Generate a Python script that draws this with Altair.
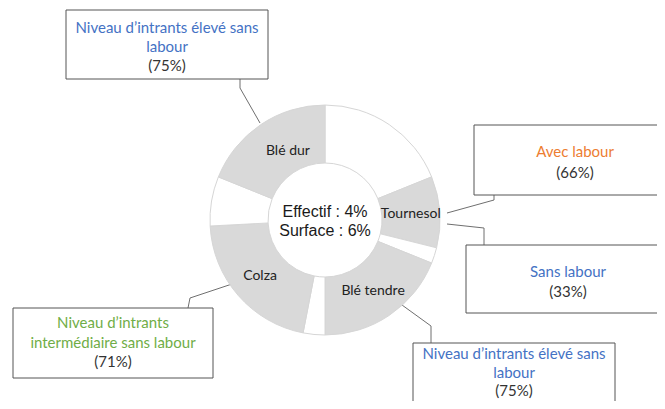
import altair as alt
import pandas as pd
import math

# ---- data: donut segments (clockwise from 12 o'clock), in degrees of the ring
seg_kind = ["autre", "culture", "autre", "culture", "autre", "culture", "autre", "culture"]
seg_label = ["", "Tournesol", "", "Blé tendre", "", "Colza", "", "Blé dur"]
seg_value = [68, 36, 8, 68, 11, 76, 25, 68]

center_lines = ["Effectif : 4%", "Surface : 6%"]

callout_title = [
    ["Niveau d\u2019intrants élevé sans", "labour"],
    ["Avec labour"],
    ["Sans labour"],
    ["Niveau d\u2019intrants", "intermédiaire sans labour"],
    ["Niveau d\u2019intrants élevé sans", "labour"],
]
callout_share = ["(75%)", "(66%)", "(33%)", "(71%)", "(75%)"]
callout_kind = ["eleve", "avec", "sans", "inter", "eleve"]

# ---- layout (screen pixels of the 665x409 page)
OFF = 8
W, H = 649, 393
CX, CY = 325, 220
R_OUT, R_IN = 115, 57
box_rect = [(66, 268, 10, 79), (474, 720, 125, 195), (466, 720, 245, 313),
            (13, 213, 308, 378), (413, 615, 343, 430)]
box_text_x = [167, 575, 568, 113, 514]
box_text_y = [[28, 47, 66], [152, 173], [272, 292], [323, 343, 362], [354, 372.5, 391]]
connectors = [
    [(240, 79), (240, 88), (260, 123)],
    [(447, 213), (494, 200), (494, 195)],
    [(447, 224), (484, 228), (484, 245)],
    [(188, 308), (190, 298), (238, 282)],
    [(402, 305), (431, 326), (431, 343)],
]

seg = pd.DataFrame({"idx": range(len(seg_value)), "kind": seg_kind,
                    "label": seg_label, "value": seg_value})

xs = alt.Scale(domain=[OFF, OFF + W])
ys = alt.Scale(domain=[OFF, OFF + H], reverse=True)
tscale = alt.Scale(domain=[0, 360], range=[0, 2 * math.pi])

base = alt.Chart(seg)

donut = base.mark_arc(outerRadius=R_OUT, innerRadius=R_IN, stroke="#d6d6d6",
                      strokeWidth=1).encode(
    theta=alt.Theta("value:Q", stack=True, scale=tscale), order=alt.Order("idx:Q"),
    color=alt.Color("kind:N", scale=alt.Scale(domain=["culture", "autre"],
                                              range=["#d9d9d9", "#ffffff"]), legend=None),
    x=alt.value(CX - OFF), y=alt.value(CY - OFF),
)

lab_base = base.transform_window(
    end="sum(value)", sort=[alt.SortField("idx")], frame=[None, 0]
).transform_calculate(mid="datum.end - datum.value / 2")


def seg_labels(flt, dx=0, dy=0):
    return lab_base.transform_filter(flt).mark_text(
        radius=86, font="Lato", fontSize=14, color="#222222", dx=dx, dy=dy).encode(
        theta=alt.Theta("mid:Q", stack=False, scale=tscale), text="label:N",
        x=alt.value(CX - OFF), y=alt.value(CY - OFF))


seg_text = seg_labels("datum.label != 'Blé dur'")
seg_text2 = seg_labels("datum.label == 'Blé dur'", dx=11, dy=2)

center = pd.DataFrame({"t": center_lines, "x": [CX, CX], "y": [212, 231]})
center_text = alt.Chart(center).mark_text(font="Liberation Sans", fontSize=16,
                                          color="#1a1a1a").encode(
    x=alt.X("x:Q", scale=xs, axis=None), y=alt.Y("y:Q", scale=ys, axis=None), text="t:N")

lines_rows = []
for g, pts in enumerate(connectors):
    for i, (px, py) in enumerate(pts):
        lines_rows.append({"g": g, "i": i, "x": px, "y": py})
conn = alt.Chart(pd.DataFrame(lines_rows)).mark_line(color="#6f6f6f", strokeWidth=1).encode(
    x=alt.X("x:Q", scale=xs, axis=None), y=alt.Y("y:Q", scale=ys, axis=None),
    detail="g:N", order="i:Q")

boxes = pd.DataFrame([{"x": a, "x2": b, "y": c, "y2": d} for a, b, c, d in box_rect])
box = alt.Chart(boxes).mark_rect(fill="white", stroke="#555555", strokeWidth=1).encode(
    x=alt.X("x:Q", scale=xs, axis=None), x2="x2:Q",
    y=alt.Y("y:Q", scale=ys, axis=None), y2="y2:Q")

trows = []
for k in range(len(callout_title)):
    lines = callout_title[k] + [callout_share[k]]
    kinds = [callout_kind[k]] * len(callout_title[k]) + ["pct"]
    for j, (t, kd) in enumerate(zip(lines, kinds)):
        trows.append({"t": t, "kind": kd, "x": box_text_x[k], "y": box_text_y[k][j]})
box_text = alt.Chart(pd.DataFrame(trows)).mark_text(font="Lato", fontSize=15).encode(
    x=alt.X("x:Q", scale=xs, axis=None), y=alt.Y("y:Q", scale=ys, axis=None),
    text="t:N",
    color=alt.Color("kind:N", scale=alt.Scale(
        domain=["eleve", "avec", "sans", "inter", "pct"],
        range=["#4472c4", "#ed7d31", "#4472c4", "#70ad47", "#333333"]), legend=None))

chart = alt.layer(conn, donut, seg_text, seg_text2, center_text, box, box_text).resolve_scale(
    color="independent").properties(
    width=W, height=H, padding=0, autosize=alt.AutoSizeParams(type="none")
).configure_view(stroke=None)

chart.save("out.html", embed_options={"renderer": "svg", "actions": False})
